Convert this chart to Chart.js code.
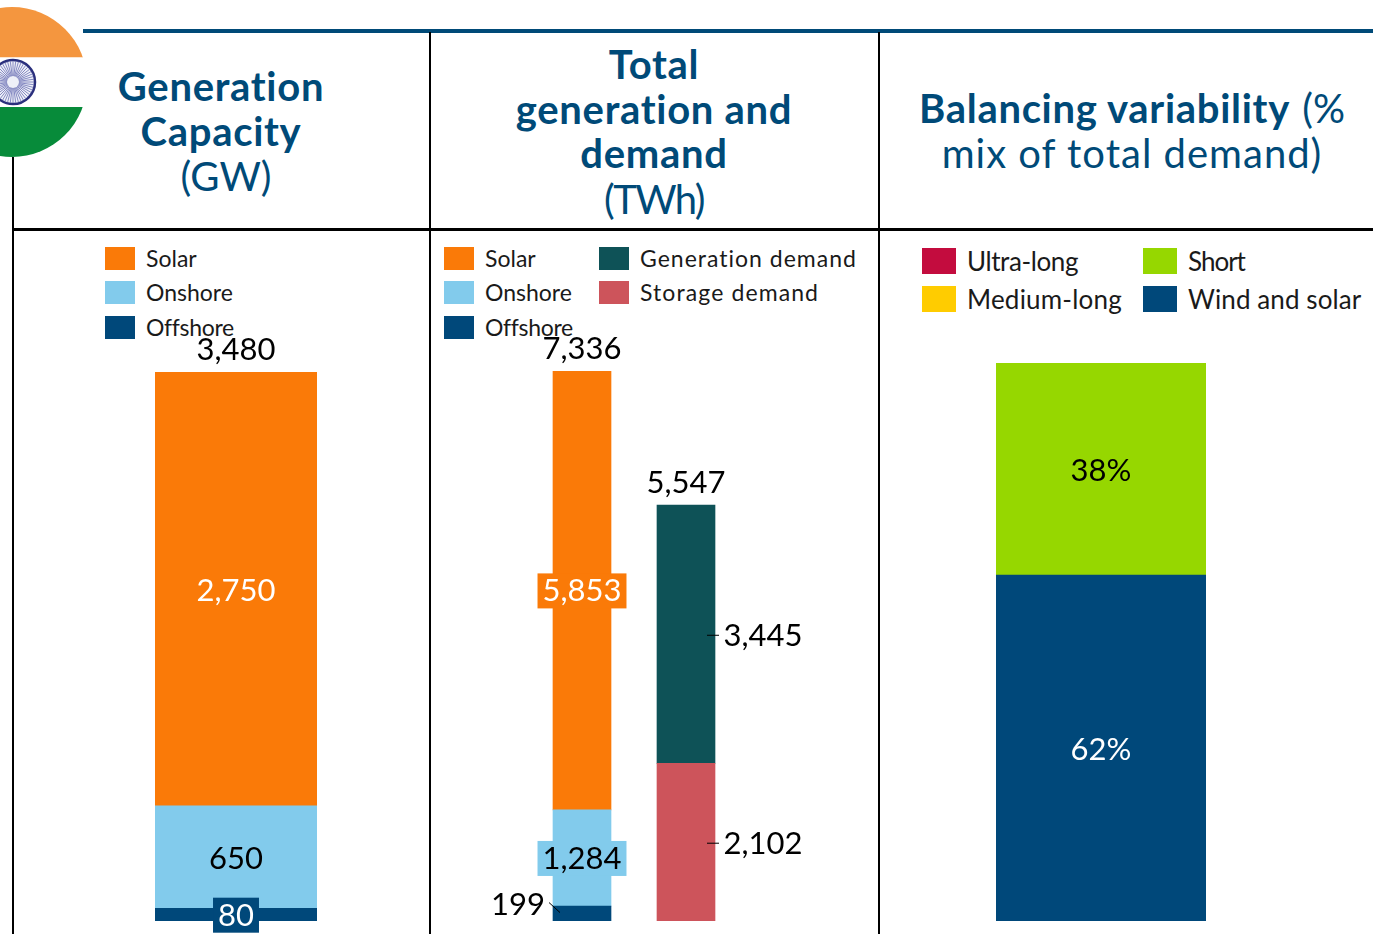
<!DOCTYPE html>
<html>
<head>
<meta charset="utf-8">
<title>India generation, demand and balancing</title>
<script src="https://cdn.jsdelivr.net/npm/chart.js@4"></script>
<style>
  html, body { margin: 0; padding: 0; background: #fff; }
  body { width: 1373px; height: 934px; position: relative; overflow: hidden; font-family: Lato, sans-serif; color: #1a1a1a; }
  .rule { position: absolute; background: #000; }
  .rule.blue { background: #004a78; }
  .title { position: absolute; text-align: center; color: #004a78; font-size: 40px; line-height: 44.7px; }
  .title b { font-weight: 700; letter-spacing: 0.7px; }
  canvas { position: absolute; top: 232px; }
  .legend { position: absolute; }
  .legend div { position: absolute; white-space: nowrap; }
  .legend i { position: absolute; left: 0; top: 0; display: block; }
  #flag { position: absolute; left: 0; top: 0; }
</style>
</head>
<body>

<svg id="flag" width="90" height="160" viewBox="0 0 90 160">
  <defs><clipPath id="disc"><circle cx="12" cy="82" r="75"/></clipPath></defs>
  <g clip-path="url(#disc)">
    <rect x="0" y="0" width="90" height="57.5" fill="#f4963f"/>
    <rect x="0" y="57.5" width="90" height="49.5" fill="#fff"/>
    <rect x="0" y="107" width="90" height="53" fill="#078b3a"/>
  </g>
  <circle cx="13" cy="82" r="22" fill="#eef0f8" stroke="#2a2f7c" stroke-width="2.5"/>
  <g id="spokes" stroke="#6a6fb4" stroke-width="0.8"></g>
  <circle cx="13" cy="82" r="6" fill="#eef0f8"/>
</svg>

<div class="rule blue" style="left:83px;top:29px;width:1290px;height:4px"></div>
<div class="rule" style="left:12px;top:157px;width:2px;height:777px"></div>
<div class="rule" style="left:429px;top:32px;width:2px;height:902px"></div>
<div class="rule" style="left:878px;top:32px;width:2px;height:902px"></div>
<div class="rule" style="left:12px;top:228px;width:1361px;height:3px"></div>

<div class="title" style="left:20px;width:402px;top:64px"><b>Generation<br>Capacity</b><br><span style="position:relative;left:5px;top:1px">(GW)</span></div>
<div class="title" style="left:434px;width:440px;top:42px"><b>Total<br>generation and<br>demand</b><br><span style="letter-spacing:-1.6px;position:relative;top:1px">(TWh)</span></div>
<div class="title" style="left:884px;width:496px;top:86px"><b>Balancing variability</b> <span style="margin-left:2px">(%</span><br><span style="letter-spacing:1px">mix of total demand)</span></div>

<div class="legend" id="legendCapacity"></div>
<div class="legend" id="legendEnergy"></div>
<div class="legend" id="legendBalance"></div>

<canvas id="capacityChart" width="414" height="702" style="left:14px"></canvas>
<canvas id="energyChart" width="445" height="702" style="left:432px"></canvas>
<canvas id="balanceChart" width="492" height="702" style="left:881px"></canvas>

<script>
// values
const capacityCategories = ['Capacity'];
const capacitySolar = [2750];
const capacityOnshore = [650];
const capacityOffshore = [80];
const capacityTotals = [3480];

const energyCategories = ['Generation', 'Demand'];
const energySolar = [5853, null];
const energyOnshore = [1284, null];
const energyOffshore = [199, null];
const energyGenerationDemand = [null, 3445];
const energyStorageDemand = [null, 2102];
const energyTotals = [7336, 5547];

const balanceCategories = ['Mix'];
const balanceUltraLong = [0];
const balanceMediumLong = [0];
const balanceShort = [38];
const balanceWindSolar = [62];

const ORANGE = '#fa7a08';
const SKY = '#82cbec';
const NAVY = '#00487a';
const TEAL = '#0e5257';
const ROSE = '#cd545b';
const LIME = '#96d700';
const CRIMSON = '#c30c3e';
const YELLOW = '#ffcc00';

const labelFont = '31px Lato, sans-serif';

// wheel on the flag
const spokes = document.getElementById('spokes');
for (let i = 0; i < 48; i++) {
    const a = i * Math.PI / 24;
    const line = document.createElementNS('http://www.w3.org/2000/svg', 'line');
    line.setAttribute('x1', 13);
    line.setAttribute('y1', 82);
    line.setAttribute('x2', 13 + 21 * Math.cos(a));
    line.setAttribute('y2', 82 + 21 * Math.sin(a));
    spokes.appendChild(line);
}

function fmt(v) {
    return v.toLocaleString('en-US');
}

// value labels on the segments, totals above the stacks
const barLabels = {
    id: 'barLabels',
    afterDatasetsDraw(chart, args, opts) {
        const ctx = chart.ctx;
        ctx.save();
        ctx.font = labelFont;
        ctx.textBaseline = 'middle';
        chart.data.datasets.forEach((ds, di) => {
            if (!ds.label_) return;
            const meta = chart.getDatasetMeta(di);
            ds.data.forEach((v, i) => {
                if (!v) return;
                const el = meta.data[i];
                const midY = (el.y + el.base) / 2;
                const text = fmt(v) + (opts.suffix || '');
                const w = ctx.measureText(text).width;
                let x = el.x;
                let y = midY + 2;
                ctx.textAlign = 'center';
                if (ds.label_.side === 'right') {
                    x = el.x + el.width / 2 + 48;
                    ctx.strokeStyle = '#000';
                    ctx.lineWidth = 1;
                    ctx.beginPath();
                    ctx.moveTo(el.x + el.width / 2 - 8, midY + 1);
                    ctx.lineTo(el.x + el.width / 2 + 4, midY + 1);
                    ctx.stroke();
                } else if (ds.label_.side === 'left') {
                    x = el.x - el.width / 2 - 35;
                    y = midY - 9;
                    ctx.strokeStyle = '#000';
                    ctx.lineWidth = 1;
                    ctx.beginPath();
                    ctx.moveTo(el.x - el.width / 2 - 4, midY - 11);
                    ctx.lineTo(el.x - el.width / 2 + 7, midY - 1);
                    ctx.stroke();
                }
                if (ds.label_.box) {
                    ctx.fillStyle = ds.backgroundColor;
                    ctx.fillRect(x - w / 2 - 5, midY - 17, w + 10, 35);
                }
                ctx.fillStyle = ds.label_.color;
                ctx.fillText(text, x, ds.label_.box ? midY + 1 : y);
            });
        });
        (opts.totals || []).forEach((total, i) => {
            const scaleX = chart.scales.x.getPixelForValue(i);
            ctx.fillStyle = '#000';
            ctx.textAlign = 'center';
            ctx.fillText(fmt(total), scaleX, chart.scales.y.getPixelForValue(total) - 22);
        });
        ctx.restore();
    }
};

function makeChart(id, labels, datasets, yMax, thickness, padding, labelOpts) {
    return new Chart(document.getElementById(id), {
        type: 'bar',
        data: {
            labels: labels,
            datasets: datasets.map(d => Object.assign({ barThickness: thickness, borderWidth: 0 }, d))
        },
        options: {
            responsive: false,
            animation: false,
            layout: { padding: padding },
            scales: {
                x: { stacked: true, display: false },
                y: { stacked: true, display: false, min: 0, max: yMax }
            },
            plugins: {
                legend: { display: false },
                tooltip: { enabled: false },
                barLabels: labelOpts
            }
        },
        plugins: [barLabels]
    });
}

makeChart('capacityChart', capacityCategories, [
    { label: 'Offshore', data: capacityOffshore, backgroundColor: NAVY, label_: { color: '#fff', box: true } },
    { label: 'Onshore', data: capacityOnshore, backgroundColor: SKY, label_: { color: '#000' } },
    { label: 'Solar', data: capacitySolar, backgroundColor: ORANGE, label_: { color: '#fff' } }
], capacityTotals[0], 162, { left: 141, right: 111, top: 140, bottom: 13 }, { totals: capacityTotals });

makeChart('energyChart', energyCategories, [
    { label: 'Offshore', data: energyOffshore, backgroundColor: NAVY, label_: { color: '#000', side: 'left' } },
    { label: 'Onshore', data: energyOnshore, backgroundColor: SKY, label_: { color: '#000', box: true } },
    { label: 'Solar', data: energySolar, backgroundColor: ORANGE, label_: { color: '#fff', box: true } },
    { label: 'Storage demand', data: energyStorageDemand, backgroundColor: ROSE, label_: { color: '#000', side: 'right' } },
    { label: 'Generation demand', data: energyGenerationDemand, backgroundColor: TEAL, label_: { color: '#000', side: 'right' } }
], energyTotals[0], 58, { left: 98, right: 139, top: 139, bottom: 13 }, { totals: energyTotals });

// the two long-duration shares are zero, they only show up in the legend
makeChart('balanceChart', balanceCategories, [
    { label: 'Ultra-long', data: balanceUltraLong, backgroundColor: CRIMSON, hidden: true },
    { label: 'Medium-long', data: balanceMediumLong, backgroundColor: YELLOW, hidden: true },
    { label: 'Wind and solar', data: balanceWindSolar, backgroundColor: NAVY, label_: { color: '#fff' } },
    { label: 'Short', data: balanceShort, backgroundColor: LIME, label_: { color: '#000' } }
], 100, 210, { left: 115, right: 167, top: 131, bottom: 13 }, { suffix: '%' });

// legends, [name, colour, swatch x, swatch y, letter spacing]
function renderLegend(id, items, swatchW, swatchH, gap, fontSize) {
    const box = document.getElementById(id);
    items.forEach(([name, colour, x, y, spacing]) => {
        const row = document.createElement('div');
        row.style.left = x + 'px';
        row.style.top = y + 'px';
        row.style.height = swatchH + 'px';
        row.style.lineHeight = swatchH + 'px';
        row.style.paddingLeft = (swatchW + gap) + 'px';
        row.style.fontSize = fontSize + 'px';
        row.style.letterSpacing = (spacing || 0) + 'px';
        row.innerHTML = '<i style="width:' + swatchW + 'px;height:' + swatchH + 'px;background:' + colour + '"></i>' + name;
        box.appendChild(row);
    });
}

renderLegend('legendCapacity', [
    ['Solar', ORANGE, 105, 247],
    ['Onshore', SKY, 105, 281],
    ['Offshore', NAVY, 105, 316, -0.3]
], 30, 23, 11, 23);

renderLegend('legendEnergy', [
    ['Solar', ORANGE, 444, 247],
    ['Onshore', SKY, 444, 281],
    ['Offshore', NAVY, 444, 316, -0.3],
    ['Generation demand', TEAL, 599, 247, 1],
    ['Storage demand', ROSE, 599, 281, 1.1]
], 30, 23, 11, 23);

renderLegend('legendBalance', [
    ['Ultra-long', CRIMSON, 922, 248, -0.4],
    ['Medium-long', YELLOW, 922, 286, 0.2],
    ['Short', LIME, 1143, 248, -1],
    ['Wind and solar', NAVY, 1143, 286, 0.1]
], 34, 26, 11, 26);
</script>
</body>
</html>
